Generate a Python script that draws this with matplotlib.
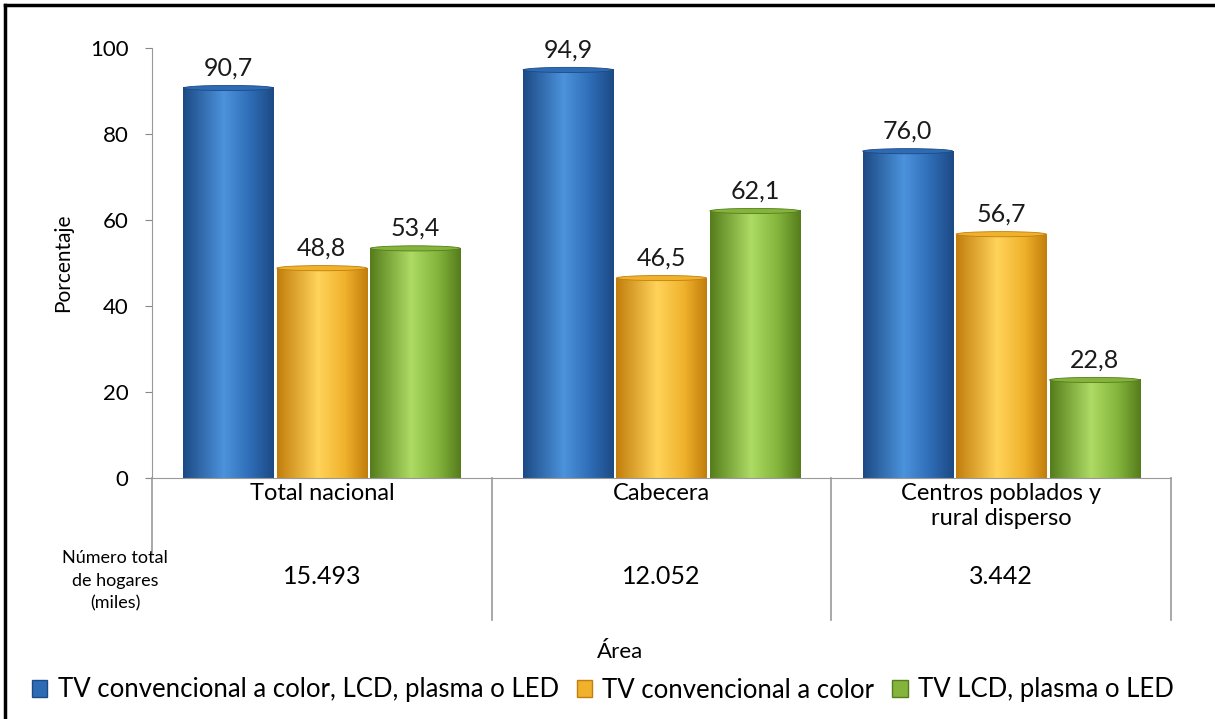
import numpy as np
import matplotlib
matplotlib.use("Agg")
import matplotlib.pyplot as plt
from matplotlib.colors import LinearSegmentedColormap
from matplotlib.patches import Ellipse, Patch
from matplotlib.lines import Line2D

plt.rcParams['font.family'] = ['Lato', 'DejaVu Sans']

areas = ['Total nacional', 'Cabecera', 'Centros poblados y\nrural disperso']
hogares = ['15.493', '12.052', '3.442']
series = ['TV convencional a color, LCD, plasma o LED',
          'TV convencional a color',
          'TV LCD, plasma o LED']
tv_total = [90.7, 94.9, 76.0]
tv_conv = [48.8, 46.5, 56.7]
tv_lcd = [53.4, 62.1, 22.8]
valores = [tv_total, tv_conv, tv_lcd]

# edge / highlight / base tones for the cylinder shading
tonos = [('#1d4a85', '#4b93dc', '#2e6bb5'),
         ('#c27e0c', '#ffd35a', '#f0b22c'),
         ('#557d1c', '#addb64', '#84b43c')]

fig = plt.figure(figsize=(12.15, 7.19), dpi=100)
ax = fig.add_axes([152 / 1215, 1 - 478 / 719, (1171 - 152) / 1215, 430 / 719])

x = np.arange(len(areas))
ancho = 0.265
desp = [-0.275, 0.0, 0.275]
grad = np.linspace(0, 1, 200)[np.newaxis, :]

for k, vals in enumerate(valores):
    borde, luz, base = tonos[k]
    cmap = LinearSegmentedColormap.from_list(
        'c%d' % k, [(0, borde), (0.45, luz), (0.75, base), (1, borde)])
    for i, v in enumerate(vals):
        x0 = x[i] + desp[k] - ancho / 2
        ax.imshow(grad, extent=[x0, x0 + ancho, 0, v], aspect='auto',
                  cmap=cmap, zorder=2, interpolation='bilinear')
        ax.add_patch(Ellipse((x0 + ancho / 2, v), ancho, 1.2,
                             facecolor=base, edgecolor=borde, lw=0.6, zorder=3))
        ax.annotate(('%.1f' % v).replace('.', ','), (x0 + ancho / 2, v),
                    xytext=(0, 6), textcoords='offset points', ha='center',
                    va='bottom', fontsize=18, color='#1a1a1a')

ax.set_xlim(-0.5, 2.5)
ax.set_ylim(0, 100)
ax.set_yticks(range(0, 101, 20))
ax.tick_params(axis='y', labelsize=16, length=5, color='#888888', pad=12)
ax.set_xticks([])
for s in ['top', 'right']:
    ax.spines[s].set_visible(False)
ax.spines['left'].set_color('#999999')
ax.spines['bottom'].set_color('#999999')
ax.set_ylabel('Porcentaje', fontsize=15, labelpad=12)

# category separators running down into the household-count row
for xs in [0.5, 1.5, 2.5]:
    ax.add_line(Line2D([xs, xs], [0, -0.33], transform=ax.get_xaxis_transform(),
                       color='#999999', lw=1.2, clip_on=False))
ax.add_line(Line2D([-0.5, -0.5], [0, -0.174], transform=ax.get_xaxis_transform(),
                   color='#999999', lw=1.2, clip_on=False))

for i, nombre in enumerate(areas):
    ax.text(x[i], -0.012, nombre, transform=ax.get_xaxis_transform(),
            ha='center', va='top', fontsize=17, linespacing=1.2)
    fig.text((152 + 339.7 * (i + 0.5)) / 1215, 1 - 577 / 719, hogares[i],
             ha='center', va='center', fontsize=18)

fig.text(115 / 1215, 1 - 581 / 719, 'Número total\nde hogares\n(miles)',
         ha='center', va='center', fontsize=13, linespacing=1.5)
fig.text(620 / 1215, 1 - 652 / 719, 'Área', ha='center', va='center', fontsize=16)

handles = [Patch(facecolor=t[2], edgecolor=t[0]) for t in tonos]
fig.legend(handles, series, loc='center', bbox_to_anchor=(603 / 1215, 1 - 690 / 719),
           ncol=3, frameon=False, fontsize=18.5, handlelength=0.6, handleheight=0.6,
           handletextpad=0.4, columnspacing=0.7)

# frame lines along the top and left edge of the figure
fig.add_artist(Line2D([5 / 1215, 5 / 1215], [0, 1 - 5 / 719], color='black', lw=2.5))
fig.add_artist(Line2D([5 / 1215, 1], [1 - 5 / 719, 1 - 5 / 719], color='black', lw=2.5))

fig.savefig('out.png', dpi=100)
